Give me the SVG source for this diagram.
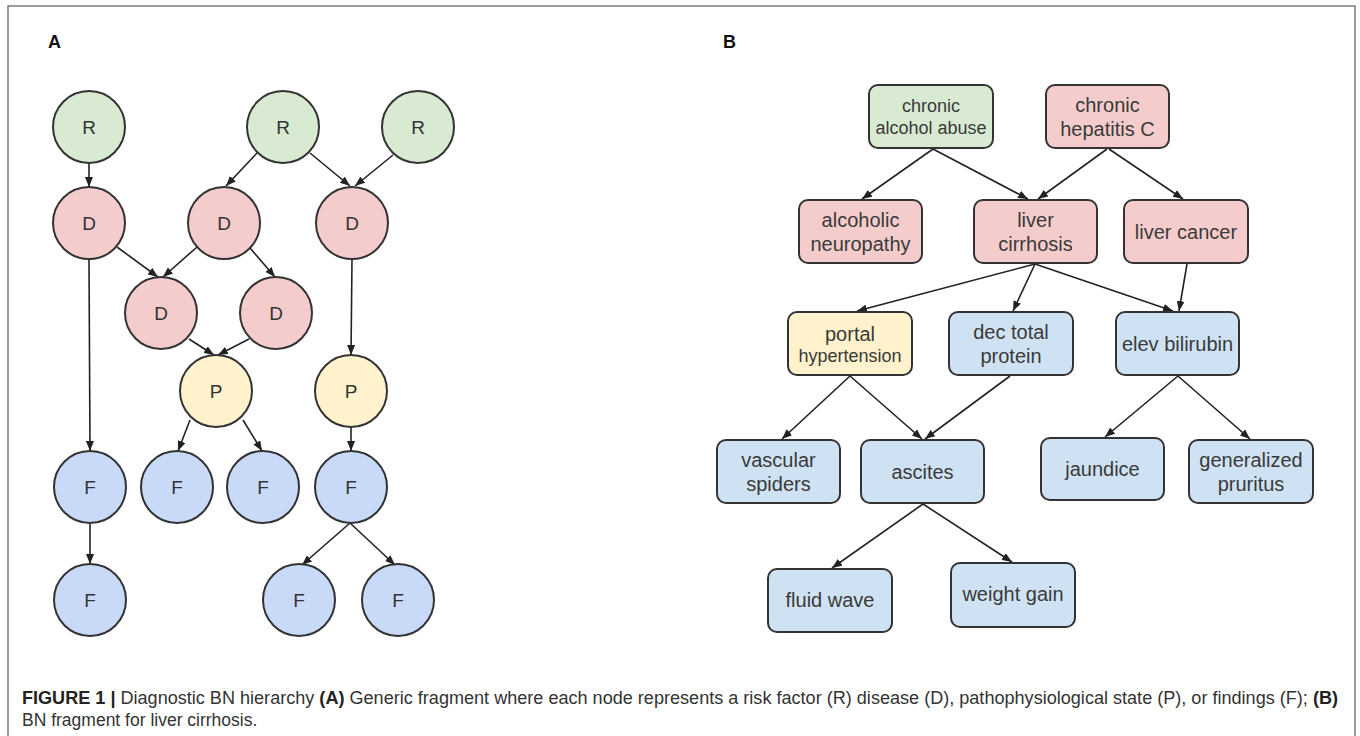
<svg xmlns="http://www.w3.org/2000/svg" width="1360" height="736" viewBox="0 0 1360 736">
<style>
.frame{fill:none;stroke:#7a7a7a;stroke-width:1.5}
.c{stroke:#333;stroke-width:2}
.b{stroke:#333;stroke-width:2}
.R{fill:#d9ead3}.D{fill:#f4cccc}.P{fill:#fff2cc}.F{fill:#c9daf8}.BL{fill:#cfe2f3}
.lt{font-family:"Liberation Sans",Arial,sans-serif;font-size:19px;fill:#333;text-anchor:middle}
.bt{font-family:"Liberation Sans",Arial,sans-serif;font-size:20px;fill:#3a3a3a;text-anchor:middle}
.st{font-size:18px}
.pl{font-family:"Liberation Sans",Arial,sans-serif;font-size:18px;font-weight:bold;fill:#111}
.cap{font-family:"Liberation Sans",Arial,sans-serif;font-size:17.5px;fill:#333}
.bold{font-weight:bold;fill:#222}
#edges line{stroke:#222;stroke-width:1.6;marker-end:url(#ah)}
</style>
<defs>
<marker id="ah" markerUnits="userSpaceOnUse" markerWidth="10" markerHeight="8" viewBox="0 0 10 8" refX="10" refY="4" orient="auto">
<path d="M0,0 L10,4 L0,8 z" fill="#222"/>
</marker>
</defs>
<rect x="0" y="0" width="1360" height="736" fill="#fff"/>
<path class="frame" d="M8,740 V6 H1355 V740"/>
<text class="pl" x="48" y="48">A</text>
<text class="pl" x="723" y="48">B</text>

<g id="edges">
<line x1="89" y1="163" x2="89" y2="187"/>
<line x1="257" y1="153" x2="226" y2="186"/>
<line x1="310" y1="153" x2="350" y2="186"/>
<line x1="393" y1="155" x2="355" y2="186"/>
<line x1="117" y1="247" x2="158" y2="277"/>
<line x1="197" y1="247" x2="163" y2="277"/>
<line x1="250" y1="248" x2="275" y2="277"/>
<line x1="89" y1="259" x2="90" y2="451"/>
<line x1="352" y1="259" x2="351" y2="355"/>
<line x1="189" y1="339" x2="214" y2="355"/>
<line x1="249" y1="339" x2="218" y2="355"/>
<line x1="190" y1="420" x2="178" y2="451"/>
<line x1="243" y1="420" x2="262" y2="451"/>
<line x1="351" y1="427" x2="351" y2="451"/>
<line x1="90" y1="523" x2="90" y2="564"/>
<line x1="350" y1="523" x2="302" y2="565"/>
<line x1="350" y1="523" x2="395" y2="565"/>

<line x1="933" y1="149" x2="862" y2="199"/>
<line x1="933" y1="149" x2="1028" y2="199"/>
<line x1="1107" y1="149" x2="1038" y2="199"/>
<line x1="1109" y1="149" x2="1183" y2="199"/>
<line x1="1035" y1="264" x2="857" y2="311"/>
<line x1="1035" y1="264" x2="1013" y2="311"/>
<line x1="1035" y1="264" x2="1173" y2="311"/>
<line x1="1187" y1="264" x2="1179" y2="311"/>
<line x1="850" y1="376" x2="782" y2="439"/>
<line x1="850" y1="376" x2="922" y2="439"/>
<line x1="1010" y1="376" x2="925" y2="439"/>
<line x1="1178" y1="376" x2="1105" y2="437"/>
<line x1="1178" y1="376" x2="1250" y2="439"/>
<line x1="923" y1="504" x2="832" y2="568"/>
<line x1="923" y1="504" x2="1012" y2="562"/>
</g>

<g id="a-r1"><circle class="c R" cx="89" cy="127" r="36"/><text class="lt" x="89" y="134">R</text></g>
<g id="a-r2"><circle class="c R" cx="283" cy="127" r="36"/><text class="lt" x="283" y="134">R</text></g>
<g id="a-r3"><circle class="c R" cx="418" cy="127" r="36"/><text class="lt" x="418" y="134">R</text></g>
<g id="a-d1"><circle class="c D" cx="89" cy="223" r="36"/><text class="lt" x="89" y="230">D</text></g>
<g id="a-d2"><circle class="c D" cx="224" cy="223" r="36"/><text class="lt" x="224" y="230">D</text></g>
<g id="a-d3"><circle class="c D" cx="352" cy="223" r="36"/><text class="lt" x="352" y="230">D</text></g>
<g id="a-d4"><circle class="c D" cx="161" cy="313" r="36"/><text class="lt" x="161" y="320">D</text></g>
<g id="a-d5"><circle class="c D" cx="276" cy="313" r="36"/><text class="lt" x="276" y="320">D</text></g>
<g id="a-p1"><circle class="c P" cx="216" cy="391" r="36"/><text class="lt" x="216" y="398">P</text></g>
<g id="a-p2"><circle class="c P" cx="351" cy="391" r="36"/><text class="lt" x="351" y="398">P</text></g>
<g id="a-f1"><circle class="c F" cx="90" cy="487" r="36"/><text class="lt" x="90" y="494">F</text></g>
<g id="a-f2"><circle class="c F" cx="177" cy="487" r="36"/><text class="lt" x="177" y="494">F</text></g>
<g id="a-f3"><circle class="c F" cx="263" cy="487" r="36"/><text class="lt" x="263" y="494">F</text></g>
<g id="a-f4"><circle class="c F" cx="351" cy="487" r="36"/><text class="lt" x="351" y="494">F</text></g>
<g id="a-f5"><circle class="c F" cx="90" cy="600" r="36"/><text class="lt" x="90" y="607">F</text></g>
<g id="a-f6"><circle class="c F" cx="299" cy="600" r="36"/><text class="lt" x="299" y="607">F</text></g>
<g id="a-f7"><circle class="c F" cx="398" cy="600" r="36"/><text class="lt" x="398" y="607">F</text></g>

<g id="b-alcohol"><rect class="b R" x="869" y="85" width="124" height="63" rx="9"/><text class="bt st" x="931" y="112">chronic</text><text class="bt st" x="931" y="134">alcohol abuse</text></g>
<g id="b-hepc"><rect class="b D" x="1046" y="85" width="123" height="63" rx="9"/><text class="bt" x="1107.5" y="112">chronic</text><text class="bt" x="1107.5" y="136">hepatitis C</text></g>
<g id="b-neuro"><rect class="b D" x="799" y="200" width="123" height="63" rx="9"/><text class="bt" x="860.5" y="227">alcoholic</text><text class="bt" x="860.5" y="251">neuropathy</text></g>
<g id="b-cirr"><rect class="b D" x="974" y="200" width="123" height="63" rx="9"/><text class="bt" x="1035.5" y="227">liver</text><text class="bt" x="1035.5" y="251">cirrhosis</text></g>
<g id="b-cancer"><rect class="b D" x="1124" y="200" width="124" height="63" rx="9"/><text class="bt" x="1186" y="239">liver cancer</text></g>
<g id="b-portal"><rect class="b P" x="788" y="312" width="124" height="63" rx="9"/><text class="bt" x="850" y="341">portal</text><text class="bt st" x="850" y="362">hypertension</text></g>
<g id="b-protein"><rect class="b BL" x="949" y="312" width="124" height="63" rx="9"/><text class="bt" x="1011" y="339">dec total</text><text class="bt" x="1011" y="363">protein</text></g>
<g id="b-bili"><rect class="b BL" x="1116" y="312" width="123" height="63" rx="9"/><text class="bt" x="1177.5" y="351">elev bilirubin</text></g>
<g id="b-spiders"><rect class="b BL" x="717" y="440" width="123" height="63" rx="9"/><text class="bt" x="778.5" y="467">vascular</text><text class="bt" x="778.5" y="491">spiders</text></g>
<g id="b-ascites"><rect class="b BL" x="861" y="440" width="123" height="63" rx="9"/><text class="bt" x="922.5" y="479">ascites</text></g>
<g id="b-jaundice"><rect class="b BL" x="1041" y="438" width="123" height="62" rx="9"/><text class="bt" x="1102.5" y="476">jaundice</text></g>
<g id="b-pruritus"><rect class="b BL" x="1189" y="440" width="124" height="63" rx="9"/><text class="bt" x="1251" y="467">generalized</text><text class="bt" x="1251" y="491">pruritus</text></g>
<g id="b-fluid"><rect class="b BL" x="768" y="569" width="124" height="63" rx="9"/><text class="bt" x="830" y="607">fluid wave</text></g>
<g id="b-weight"><rect class="b BL" x="951" y="563" width="124" height="64" rx="9"/><text class="bt" x="1013" y="601">weight gain</text></g>

<text class="cap" x="22" y="704" textLength="1316" lengthAdjust="spacingAndGlyphs"><tspan class="bold">FIGURE 1 |</tspan> Diagnostic BN hierarchy <tspan class="bold">(A)</tspan> Generic fragment where each node represents a risk factor (R) disease (D), pathophysiological state (P), or findings (F); <tspan class="bold">(B)</tspan></text>
<text class="cap" x="22" y="726">BN fragment for liver cirrhosis.</text>
</svg>
